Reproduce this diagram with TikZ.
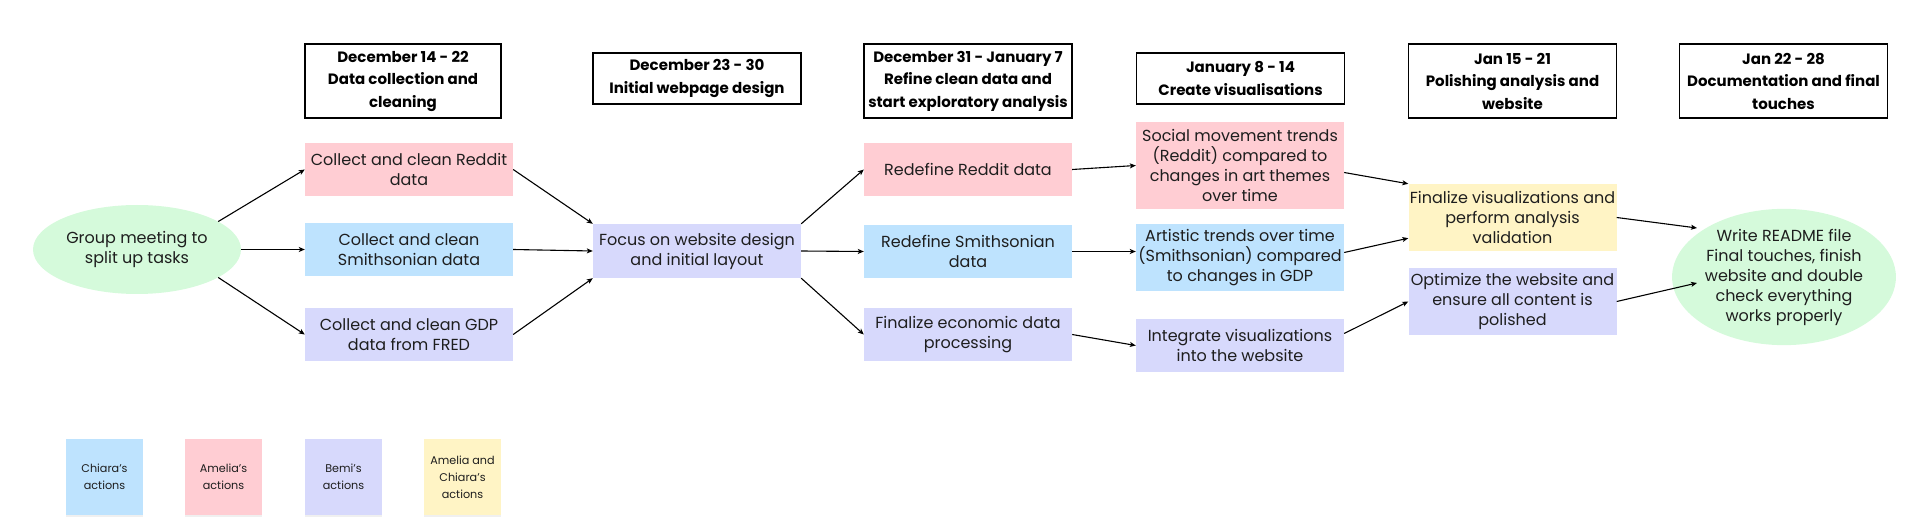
\documentclass[tikz,border=0pt]{standalone}
\usepackage{fontspec}
\setmainfont{Poppins}
\usepackage{xcolor}
\usepackage{tikz}
\usetikzlibrary{arrows.meta}
\usetikzlibrary{shapes.geometric}
\usetikzlibrary{shadows}

\definecolor{redditpink}{HTML}{FFCDD3}
\definecolor{smithblue}{HTML}{BEE3FE}
\definecolor{bemilav}{HTML}{D7D9FC}
\definecolor{jointyellow}{HTML}{FFF4C5}
\definecolor{meetgreen}{HTML}{D5FADB}
\definecolor{inktext}{HTML}{1E1E1E}

\begin{document}
\begin{tikzpicture}[x=1pt,y=-1pt,
    datebox/.style={draw=black,line width=1.2pt,minimum width=#1,minimum height=74pt,
      inner sep=0pt,align=center,font=\fontsize{15}{22.5}\selectfont\bfseries},
    datebox/.default=208pt,
    taskbox/.style={fill=#1,minimum width=208pt,inner sep=0pt,align=center,
      text=inktext,font=\fontsize{16}{20}\selectfont},
    meeting/.style={ellipse,fill=meetgreen,minimum width=208pt,inner sep=0pt,
      align=center,text=inktext,font=\fontsize{16}{20}\selectfont},
    keynote/.style={fill=#1,minimum width=77pt,minimum height=76pt,inner sep=0pt,
      align=center,text=inktext,font=\fontsize{11.2}{17}\selectfont,
      drop shadow={opacity=0.12,shadow xshift=0pt,shadow yshift=-2pt}},
    link/.style={-{Stealth[length=6pt,width=5pt,inset=1.5pt]},line width=1.1pt}]
  \useasboundingbox (0,0) rectangle (1920,529);

  \node[datebox=196pt] (wk1) at (403,81) {December 14 - 22\\Data collection and\\cleaning};
  \node[datebox,minimum height=51pt] (wk2) at (697,78.5) {December 23 - 30\\Initial webpage design};
  \node[datebox] (wk3) at (968,81) {December 31 - January 7\\Refine clean data and\\start exploratory analysis};
  \node[datebox,minimum height=51pt] (wk4) at (1240.5,78.5) {January 8 - 14\\Create visualisations};
  \node[datebox] (wk5) at (1512.5,81) {Jan 15 - 21\\Polishing analysis and\\website};
  \node[datebox] (wk6) at (1783.5,81) {Jan 22 - 28\\Documentation and final\\touches};

  \node[meeting,minimum height=89pt] (kickoff) at (137,249.5) {Group meeting to\\split up tasks};

  \node[taskbox=redditpink,minimum height=53pt] (collectReddit) at (409,169.5) {Collect and clean Reddit\\data};
  \node[taskbox=smithblue,minimum height=53pt] (collectSmith) at (409,249.5) {Collect and clean\\Smithsonian data};
  \node[taskbox=bemilav,minimum height=53pt] (collectGdp) at (409,334.5) {Collect and clean GDP\\data from FRED};

  \node[taskbox=bemilav,minimum height=54pt] (webDesign) at (697,251) {Focus on website design\\and initial layout};

  \node[taskbox=redditpink,minimum height=53pt] (refineReddit) at (968,169.5) {Redefine Reddit data};
  \node[taskbox=smithblue,minimum height=53pt] (refineSmith) at (968,251.5) {Redefine Smithsonian\\data};
  \node[taskbox=bemilav,minimum height=53pt] (refineGdp) at (968,334.5) {Finalize economic data\\processing};

  \node[taskbox=redditpink,minimum height=87pt] (vizReddit) at (1240,165.5) {Social movement trends\\(Reddit) compared to\\changes in art themes\\over time};
  \node[taskbox=smithblue,minimum height=67pt] (vizSmith) at (1240,257.5) {Artistic trends over time\\(Smithsonian) compared\\to changes in GDP};
  \node[taskbox=bemilav,minimum height=53pt] (vizWeb) at (1240,345.5) {Integrate visualizations\\into the website};

  \node[taskbox=jointyellow,minimum height=67pt] (polishViz) at (1512.5,217.5) {Finalize visualizations and\\perform analysis\\validation};
  \node[taskbox=bemilav,minimum height=67pt] (polishWeb) at (1512.5,301.5) {Optimize the website and\\ensure all content is\\polished};

  \node[meeting,minimum height=132pt] (wrapup) at (1784,277) {Write README file\\Final touches, finish\\website and double\\check everything\\works properly};
  \coordinate (wrapupIn1) at (1697,228);
  \coordinate (wrapupIn2) at (1697,283);

  \draw[link] (kickoff.19) -- (collectReddit.west);
  \draw[link] (kickoff.east) -- (collectSmith.west);
  \draw[link] (kickoff.-19) -- (collectGdp.west);
  \draw[link] (collectReddit.east) -- (webDesign.north west);
  \draw[link] (collectSmith.east) -- (webDesign.west);
  \draw[link] (collectGdp.east) -- (webDesign.south west);
  \draw[link] (webDesign.north east) -- (refineReddit.west);
  \draw[link] (webDesign.east) -- (refineSmith.west);
  \draw[link] (webDesign.south east) -- (refineGdp.west);
  \draw[link] (refineReddit.east) -- (vizReddit.west);
  \draw[link] (refineSmith.east) -- (refineSmith.east -| vizSmith.west);
  \draw[link] (refineGdp.east) -- (vizWeb.west);
  \draw[link] ([yshift=-7pt]vizReddit.east) -- (polishViz.north west);
  \draw[link] ([yshift=5pt]vizSmith.east) -- ([yshift=13pt]polishViz.south west);
  \draw[link] ([yshift=12pt]vizWeb.east) -- (polishWeb.west);
  \draw[link] (polishViz.east) -- (wrapupIn1);
  \draw[link] (polishWeb.east) -- (wrapupIn2);

  \node[keynote=smithblue] (keyChiara) at (104.5,477) {Chiara’s\\actions};
  \node[keynote=redditpink] (keyAmelia) at (223.5,477) {Amelia’s\\actions};
  \node[keynote=bemilav] (keyBemi) at (343.5,477) {Bemi’s\\actions};
  \node[keynote=jointyellow] (keyJoint) at (462.5,477) {Amelia and\\Chiara’s\\actions};
\end{tikzpicture}
\end{document}
